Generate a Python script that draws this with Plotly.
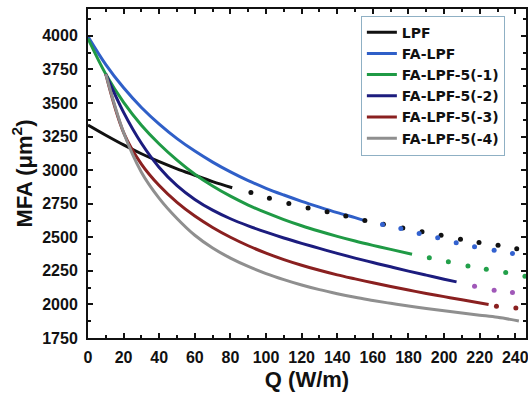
import plotly.graph_objects as go

# ---- data ----
q_lpf = [0, 10, 20, 30, 40, 50, 60, 70, 81]
mfa_lpf = [3336, 3260, 3188, 3122, 3063, 3010, 2962, 2915, 2869]
q_lpf_ext = [91.5, 101.9, 112.8, 123.6, 134.3, 144.8, 155.5, 165.9, 176.8, 187.6, 198.3, 209.2, 219.6, 230.3, 240.8]
mfa_lpf_ext = [2834, 2790, 2752, 2719, 2690, 2658, 2625, 2598, 2570, 2541, 2516, 2486, 2461, 2441, 2414]

q_fa = [0, 10, 20, 30, 40, 50, 60, 70, 80, 90, 100, 110, 120, 130, 140, 150, 156]
mfa_fa = [3995, 3786, 3613, 3467, 3343, 3235, 3142, 3060, 2987, 2922, 2865, 2815, 2768, 2725, 2684, 2646, 2622]
q_fa_ext = [165.4, 175.7, 186.0, 196.4, 206.8, 217.1, 228.1, 238.4]
mfa_fa_ext = [2596, 2566, 2529, 2496, 2459, 2429, 2404, 2379]

q_m1 = [0, 10, 20, 30, 40, 50, 60, 70, 80, 90, 100, 110, 120, 130, 140, 150, 160, 170, 182]
mfa_m1 = [3980, 3715, 3505, 3335, 3195, 3075, 2970, 2882, 2806, 2740, 2683, 2632, 2586, 2545, 2507, 2472, 2440, 2410, 2374]
q_m1_ext = [191.7, 202.4, 213.4, 223.7, 234.6, 245.4]
mfa_m1_ext = [2347, 2317, 2287, 2262, 2238, 2210]

q_m2 = [10, 20, 30, 40, 50, 60, 70, 80, 90, 100, 110, 120, 130, 140, 150, 160, 170, 180, 190, 200, 207]
mfa_m2 = [3715, 3430, 3200, 3020, 2885, 2782, 2702, 2638, 2585, 2538, 2495, 2455, 2417, 2380, 2345, 2312, 2280, 2248, 2218, 2188, 2168]
q_m2_ext = [217.1, 228.1, 238.4]
mfa_m2_ext = [2135, 2105, 2088]

q_m3 = [10, 20, 30, 40, 50, 60, 70, 80, 90, 100, 110, 120, 130, 140, 150, 160, 170, 180, 190, 200, 210, 225]
mfa_m3 = [3715, 3280, 3045, 2885, 2760, 2658, 2573, 2500, 2437, 2382, 2334, 2292, 2254, 2220, 2190, 2161, 2133, 2107, 2082, 2058, 2035, 2000]
q_m3_ext = [229.4, 240.3]
mfa_m3_ext = [1986, 1974]

q_m4 = [10, 20, 30, 40, 50, 60, 70, 80, 90, 100, 110, 120, 130, 140, 150, 160, 170, 180, 190, 200, 210, 220, 230, 242]
mfa_m4 = [3715, 3280, 2985, 2790, 2640, 2515, 2420, 2345, 2283, 2230, 2185, 2145, 2110, 2080, 2053, 2030, 2008, 1988, 1970, 1953, 1936, 1920, 1904, 1877]

names = ["LPF", "FA-LPF", "FA-LPF-5(-1)", "FA-LPF-5(-2)", "FA-LPF-5(-3)", "FA-LPF-5(-4)"]
line_colors = ["#111111", "#2f5fc8", "#1f9a45", "#1c1c7e", "#8a2020", "#8f8f8f"]
dot_colors = ["#111111", "#3362d0", "#22a04a", "#a058b8", "#8a2020", None]

solid = [(q_lpf, mfa_lpf), (q_fa, mfa_fa), (q_m1, mfa_m1), (q_m2, mfa_m2), (q_m3, mfa_m3), (q_m4, mfa_m4)]
ext = [(q_lpf_ext, mfa_lpf_ext), (q_fa_ext, mfa_fa_ext), (q_m1_ext, mfa_m1_ext),
       (q_m2_ext, mfa_m2_ext), (q_m3_ext, mfa_m3_ext), None]

fig = go.Figure()
for i in range(6):
    x, y = solid[i]
    fig.add_trace(go.Scatter(x=x, y=y, mode="lines", name=names[i],
                             line=dict(color=line_colors[i], width=3, shape="spline")))
for i in range(6):
    if ext[i] is None:
        continue
    x, y = ext[i]
    fig.add_trace(go.Scatter(x=x, y=y, mode="markers", showlegend=False,
                             marker=dict(color=dot_colors[i], size=5)))

font_family = "Liberation Sans, Arial, sans-serif"
fig.update_layout(
    width=528, height=394,
    margin=dict(l=88, r=2, t=9, b=56),
    paper_bgcolor="white", plot_bgcolor="white",
    font=dict(family=font_family, color="#111111"),
    legend=dict(x=0.623, y=0.98, xanchor="left", yanchor="top",
                bgcolor="white", bordercolor="#8fb0c4", borderwidth=1,
                font=dict(size=14, weight="bold", family="DejaVu Sans, sans-serif"),
                tracegroupgap=0, itemwidth=30),
    xaxis=dict(range=[0, 246], dtick=20, tick0=0, showgrid=False, zeroline=False,
               automargin=False, ticklabeloverflow="allow",
               showline=True, linecolor="#111111", linewidth=2, mirror="ticks",
               ticks="inside", ticklen=5, tickwidth=2, tickcolor="#111111",
               tickfont=dict(size=16, weight="bold", family=font_family),
               ticklabelstandoff=4,
               minor=dict(ticks="inside", ticklen=3, tickwidth=1.5, dtick=10, tickcolor="#111111"),
               title=dict(text="Q (W/m)", font=dict(size=22, weight="bold", family=font_family), standoff=6)),
    yaxis=dict(range=[1750, 4200], dtick=250, tick0=1750, showgrid=False, zeroline=False,
               automargin=False, ticklabeloverflow="allow",
               showline=True, linecolor="#111111", linewidth=2, mirror="ticks",
               ticks="inside", ticklen=5, tickwidth=2, tickcolor="#111111",
               tickfont=dict(size=16, weight="bold", family=font_family),
               ticklabelstandoff=5,
               minor=dict(ticks="inside", ticklen=3, tickwidth=1.5, dtick=125, tickcolor="#111111"),
               title=dict(text="MFA (μm<sup>2</sup>)", font=dict(size=22, weight="bold", family=font_family), standoff=4)),
)

fig.write_html("out.html", config={"displayModeBar": False},
               post_script="document.body.style.margin='0px';document.body.style.padding='0px';")
